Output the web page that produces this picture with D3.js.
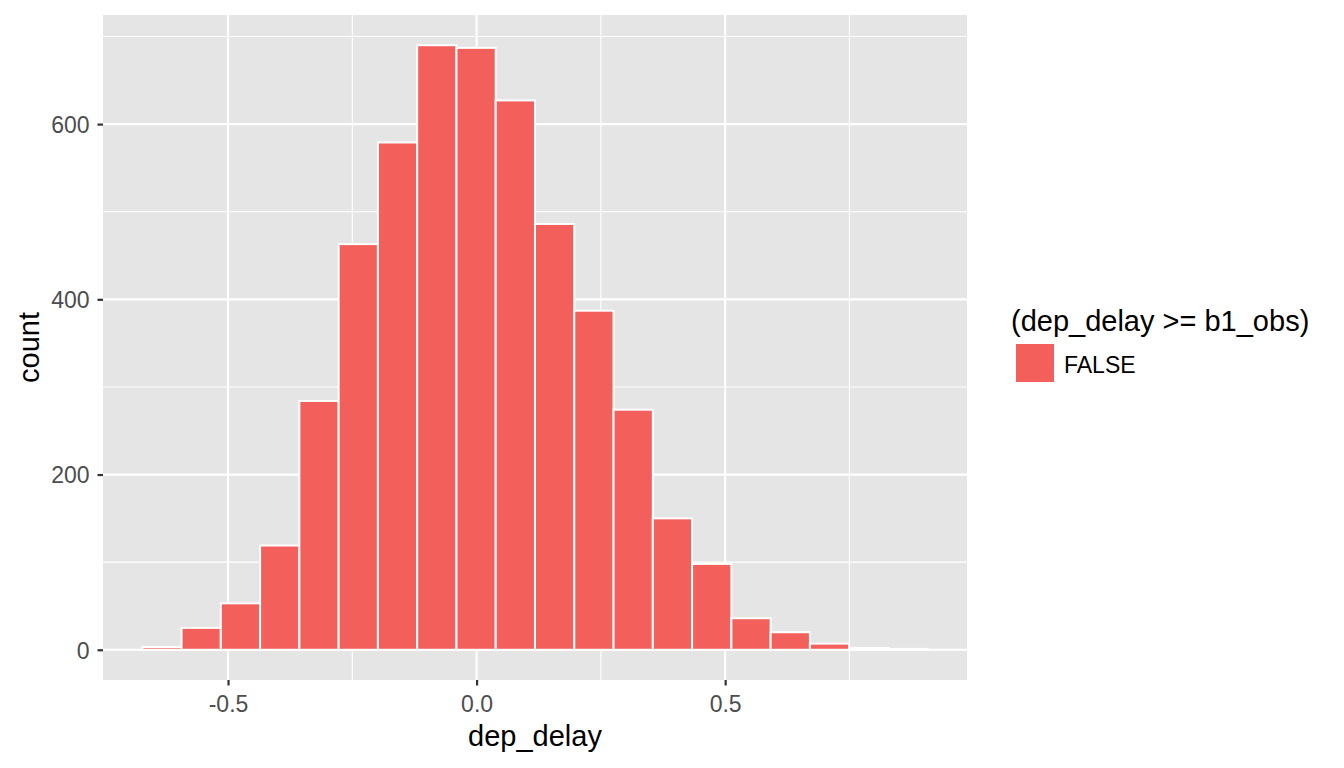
<!DOCTYPE html>
<html>
<head>
<meta charset="utf-8">
<script src="https://cdn.jsdelivr.net/npm/d3@7"></script>
<style>
  html, body { margin: 0; padding: 0; background: #fff; }
  svg { display: block; }
  text { font-family: "Liberation Sans", Arial, Helvetica, sans-serif; }
</style>
</head>
<body>
<svg id="chart" width="1344" height="768"></svg>
<script>
// ---- data ----
const binCenters = [-0.633, -0.554, -0.475, -0.396, -0.317, -0.238, -0.159, -0.080, -0.001, 0.078,
                    0.157, 0.236, 0.315, 0.394, 0.473, 0.552, 0.631, 0.710, 0.789, 0.868];
const binWidth = 0.079;
const counts = [3, 25, 53, 119, 284, 463, 579, 690, 687, 627,
                486, 387, 274, 150, 98, 36, 20, 7, 2, 1];
const xTicks = [-0.5, 0.0, 0.5];
const xTickLabels = ["-0.5", "0.0", "0.5"];
const xMinor = [-0.25, 0.25, 0.75];
const yTicks = [0, 200, 400, 600];
const yTickLabels = ["0", "200", "400", "600"];
const yMinor = [100, 300, 500, 700];
const legendTitle = "(dep_delay >= b1_obs)";
const legendLabels = ["FALSE"];
const xTitle = "dep_delay";
const yTitle = "count";

// ---- layout ----
const panel = { left: 103, top: 15, right: 967, bottom: 680 };
const fill = "#F35F5A";

const svg = d3.select("#chart");

const lo = d3.min(binCenters) - binWidth / 2;
const hi = d3.max(binCenters) + binWidth / 2;
const xe = (hi - lo) * 0.05;
const x = d3.scaleLinear().domain([lo - xe, hi + xe]).range([panel.left, panel.right]);
const ymax = d3.max(counts);
const ye = ymax * 0.05;
const y = d3.scaleLinear().domain([-ye, ymax + ye]).range([panel.bottom, panel.top]);

// panel background
svg.append("rect")
  .attr("x", panel.left).attr("y", panel.top)
  .attr("width", panel.right - panel.left).attr("height", panel.bottom - panel.top)
  .attr("fill", "#E5E5E5");

const grid = svg.append("g");
// minor grid
grid.selectAll(".ymin").data(yMinor).enter().append("line")
  .attr("x1", panel.left).attr("x2", panel.right)
  .attr("y1", d => y(d)).attr("y2", d => y(d))
  .attr("stroke", "#fff").attr("stroke-width", 1.1);
grid.selectAll(".xmin").data(xMinor).enter().append("line")
  .attr("y1", panel.top).attr("y2", panel.bottom)
  .attr("x1", d => x(d)).attr("x2", d => x(d))
  .attr("stroke", "#fff").attr("stroke-width", 1.1);
// major grid
grid.selectAll(".ymaj").data(yTicks).enter().append("line")
  .attr("x1", panel.left).attr("x2", panel.right)
  .attr("y1", d => y(d)).attr("y2", d => y(d))
  .attr("stroke", "#fff").attr("stroke-width", 2.2);
grid.selectAll(".xmaj").data(xTicks).enter().append("line")
  .attr("y1", panel.top).attr("y2", panel.bottom)
  .attr("x1", d => x(d)).attr("x2", d => x(d))
  .attr("stroke", "#fff").attr("stroke-width", 2.2);

// bars
svg.append("g").selectAll("rect").data(binCenters).enter().append("rect")
  .attr("x", d => x(d - binWidth / 2))
  .attr("width", d => x(d + binWidth / 2) - x(d - binWidth / 2))
  .attr("y", (d, i) => y(counts[i]))
  .attr("height", (d, i) => y(0) - y(counts[i]))
  .attr("fill", fill)
  .attr("stroke", "#fff").attr("stroke-width", 2);

// axes
const xAxis = d3.axisBottom(x).tickValues(xTicks).tickSize(5.5).tickPadding(4)
  .tickFormat((d, i) => xTickLabels[i]);
const gx = svg.append("g").attr("transform", `translate(0,${panel.bottom})`).call(xAxis);
gx.select(".domain").remove();
gx.selectAll(".tick line").attr("stroke", "#333").attr("stroke-width", 2.2);
gx.selectAll(".tick text").attr("fill", "#4D4D4D").attr("font-size", 23).attr("dy", "22px");

const yAxis = d3.axisLeft(y).tickValues(yTicks).tickSize(5.5).tickPadding(8)
  .tickFormat((d, i) => yTickLabels[i]);
const gy = svg.append("g").attr("transform", `translate(${panel.left},0)`).call(yAxis);
gy.select(".domain").remove();
gy.selectAll(".tick line").attr("stroke", "#333").attr("stroke-width", 2.2);
gy.selectAll(".tick text").attr("fill", "#4D4D4D").attr("font-size", 23).attr("dy", "0.36em");

// axis titles
svg.append("text")
  .attr("x", (panel.left + panel.right) / 2).attr("y", 746)
  .attr("text-anchor", "middle").attr("font-size", 29).attr("fill", "#000")
  .text(xTitle);
svg.append("text")
  .attr("transform", `translate(39,${(panel.top + panel.bottom) / 2}) rotate(-90)`)
  .attr("text-anchor", "middle").attr("font-size", 29).attr("fill", "#000")
  .text(yTitle);

// legend
const lg = svg.append("g");
lg.append("text").attr("x", 1011).attr("y", 331)
  .attr("font-size", 29).attr("fill", "#000").text(legendTitle);
lg.selectAll("rect.key").data(legendLabels).enter().append("rect")
  .attr("x", 1015).attr("y", (d, i) => 343 + i * 41)
  .attr("width", 40).attr("height", 40)
  .attr("fill", fill).attr("stroke", "#fff").attr("stroke-width", 2);
lg.selectAll("text.lab").data(legendLabels).enter().append("text")
  .attr("x", 1064).attr("y", (d, i) => 373 + i * 41)
  .attr("font-size", 23).attr("fill", "#000").text(d => d);
</script>
</body>
</html>
